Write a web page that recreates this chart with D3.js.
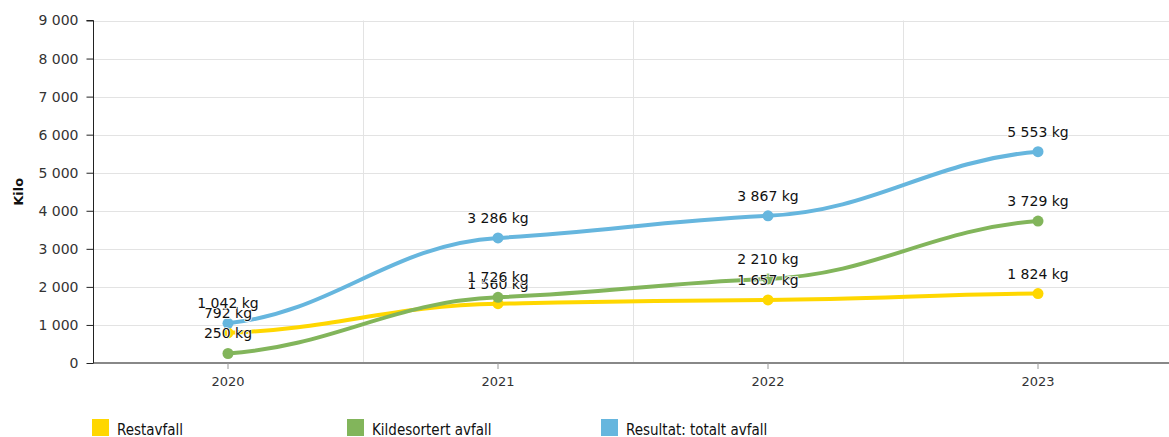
<!DOCTYPE html>
<html><head><meta charset="utf-8">
<script src="https://cdn.jsdelivr.net/npm/d3@7"></script>
<style>body{margin:0;background:#fff}svg{display:block}</style>
</head><body>
<svg id="c" width="1169" height="437"></svg>
<script>
const categories = ["2020","2021","2022","2023"];
const seriesNames = ["Restavfall","Kildesortert avfall","Resultat: totalt avfall"];
const restavfall = [792, 1560, 1657, 1824];
const kildesortert = [250, 1726, 2210, 3729];
const totalt = [1042, 3286, 3867, 5553];
const seriesColors = ["#FFD700","#82B55B","#66B6DE"];
const yTicks = [0,1000,2000,3000,4000,5000,6000,7000,8000,9000];
const yTitle = "Kilo";

const svg = d3.select("#c");
const pLeft = 93, pRight = 1173, pTop = 20.5, pBottom = 363;
const x = d3.scaleBand().domain(categories).range([pLeft, pRight]);
const y = d3.scaleLinear().domain([0, 9000]).range([pBottom, pTop]);
const fmt = v => d3.format(",")(v).replace(/,/g, " ");

// horizontal grid
svg.append("g").selectAll("line").data(yTicks.slice(1)).join("line")
  .attr("x1", pLeft).attr("x2", 1169).attr("y1", d => Math.round(y(d)) + 0.5).attr("y2", d => Math.round(y(d)) + 0.5)
  .attr("stroke", "#e3e3e3").attr("stroke-width", 1);
// vertical grid at band boundaries
svg.append("g").selectAll("line").data(categories.slice(1)).join("line")
  .attr("x1", d => Math.round(x(d)) + 0.5).attr("x2", d => Math.round(x(d)) + 0.5)
  .attr("y1", pTop).attr("y2", pBottom).attr("stroke", "#e3e3e3");

// x axis
const xAxis = svg.append("g").attr("transform", `translate(0,${pBottom})`)
  .call(d3.axisBottom(x).tickSize(6).tickPadding(8));
xAxis.select(".domain").attr("stroke", "#888").attr("stroke-width", 2).attr("d", `M${pLeft},0H1169`);
xAxis.selectAll(".tick line").attr("stroke", "#999");
xAxis.selectAll(".tick text").attr("font-family", "DejaVu Sans").attr("font-size", 13).attr("fill", "#333");

// y axis
const yAxis = svg.append("g").attr("transform", `translate(${pLeft + 0.5},0)`)
  .call(d3.axisLeft(y).tickValues(yTicks).tickFormat(fmt).tickSize(7).tickPadding(8));
yAxis.select(".domain").attr("stroke", "#222").attr("d", `M-7,${pTop}H0V${pBottom}`);
yAxis.selectAll(".tick line").attr("stroke", "#222");
yAxis.selectAll(".tick text").attr("font-family", "DejaVu Sans").attr("font-size", 14).attr("fill", "#333");

svg.append("text").attr("transform", `translate(23,${(pTop + pBottom) / 2}) rotate(-90)`)
  .attr("text-anchor", "middle").attr("font-family", "DejaVu Sans").attr("font-weight", "bold")
  .attr("font-size", 13).attr("fill", "#111").text(yTitle);

// soft spline curve factory: reduced tangents at each point
function curveSoft(context) {
  let pts;
  const c = 0.4, k = 0.3, ke = 0.35;
  return {
    areaStart() {}, areaEnd() {},
    lineStart() { pts = []; },
    point(px, py) { pts.push([+px, +py]); },
    lineEnd() {
      const n = pts.length;
      if (!n) return;
      const m = pts.map((p, i) => {
        if (n < 2) return 0;
        if (i === 0) return ke * (pts[1][1] - p[1]) / (pts[1][0] - p[0]);
        if (i === n - 1) return ke * (p[1] - pts[i - 1][1]) / (p[0] - pts[i - 1][0]);
        return k * (pts[i + 1][1] - pts[i - 1][1]) / (pts[i + 1][0] - pts[i - 1][0]);
      });
      context.moveTo(pts[0][0], pts[0][1]);
      for (let i = 1; i < n; i++) {
        const [x0, y0] = pts[i - 1], [x1, y1] = pts[i], h = x1 - x0;
        context.bezierCurveTo(x0 + c * h, y0 + c * h * m[i - 1], x1 - c * h, y1 - c * h * m[i], x1, y1);
      }
    }
  };
}

const allSeries = [restavfall, kildesortert, totalt];
const cx = c => x(c) + x.bandwidth() / 2;
const line = d3.line().x((d, i) => cx(categories[i])).y(d => y(d)).curve(curveSoft);
allSeries.forEach((vals, si) => {
  const g = svg.append("g");
  g.append("path").attr("d", line(vals)).attr("fill", "none")
    .attr("stroke", seriesColors[si]).attr("stroke-width", 4).attr("stroke-linecap", "round");
  g.selectAll("circle").data(vals).join("circle")
    .attr("cx", (d, i) => cx(categories[i])).attr("cy", d => y(d)).attr("r", 5.5)
    .attr("fill", seriesColors[si]);
});
allSeries.forEach((vals, si) => {
  svg.append("g").selectAll("text").data(vals).join("text")
    .attr("x", (d, i) => cx(categories[i])).attr("y", d => y(d) - 15)
    .attr("text-anchor", "middle").attr("font-family", "DejaVu Sans").attr("font-size", 14)
    .attr("fill", "#111").attr("stroke", "#fff").attr("stroke-width", 1.5).attr("paint-order", "stroke")
    .text(d => fmt(d) + " kg");
});

// legend
const legX = [92, 347, 601];
const lg = svg.append("g").selectAll("g").data(seriesNames).join("g")
  .attr("transform", (d, i) => `translate(${legX[i]},419)`);
lg.append("rect").attr("width", 17).attr("height", 17).attr("fill", (d, i) => seriesColors[i]);
lg.append("text").attr("x", 25).attr("y", 15.5).attr("font-family", "DejaVu Sans Condensed")
  .attr("font-size", 15).attr("fill", "#111").text(d => d);
</script>
</body></html>
